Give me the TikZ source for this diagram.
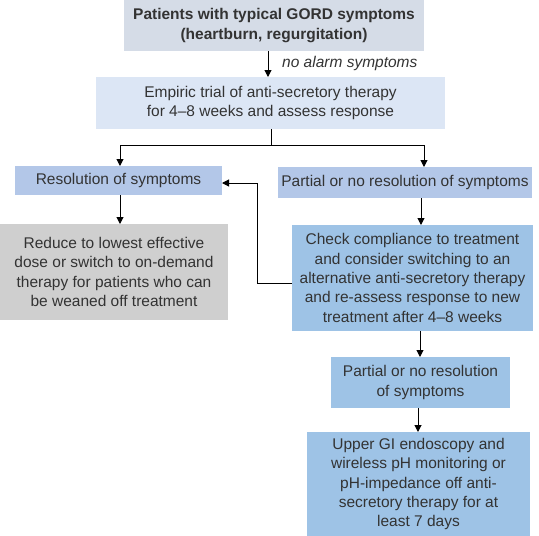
\documentclass[tikz,border=0pt]{standalone}
\usepackage{fontspec}
\setmainfont{Liberation Sans}
\usetikzlibrary{arrows.meta}
\definecolor{txt}{HTML}{333333}
\definecolor{cTop}{HTML}{D5DCE7}
\definecolor{cEmp}{HTML}{DCE6F5}
\definecolor{cMid}{HTML}{B3C7E8}
\definecolor{cGrey}{HTML}{CFCFCF}
\definecolor{cBlue}{HTML}{9EC3E6}
\begin{document}
\begin{tikzpicture}[x=1pt,y=-1pt,
  box/.style={inner sep=0pt,outer sep=0pt,align=center,text=txt,
    font=\fontsize{15.5}{19.3}\selectfont},
  arr/.style={-{Triangle[length=7pt,width=7pt]},line width=1pt,black},
  ln/.style={line width=1pt,black}]
\useasboundingbox (0,0) rectangle (539,536);
\node[box,fill=cTop,minimum width=300pt,minimum height=51pt] (b1) at (274,25.5)
  {\bfseries Patients with typical GORD symptoms\\\bfseries (heartburn, regurgitation)};
\node[box,fill=cEmp,minimum width=349pt,minimum height=52pt] (b2) at (270.5,103)
  {Empiric trial of anti-secretory therapy\\for 4–8 weeks and assess response};
\node[box,fill=cMid,minimum width=207pt,minimum height=29pt] (b3) at (118.5,180.5)
  {Resolution of symptoms};
\node[box,fill=cMid,minimum width=254pt,minimum height=31pt] (b4) at (405,182.5)
  {Partial or no resolution of symptoms};
\node[box,fill=cGrey,minimum width=228pt,minimum height=96pt] (b5) at (114,272)
  {Reduce to lowest effective\\dose or switch to on-demand\\therapy for patients who can\\be weaned off treatment};
\node[box,fill=cBlue,minimum width=241pt,minimum height=106pt] (b6) at (412.5,278)
  {Check compliance to treatment\\and consider switching to an\\alternative anti-secretory therapy\\and re-assess response to new\\treatment after 4–8 weeks};
\node[box,fill=cBlue,minimum width=179pt,minimum height=51pt] (b7) at (420.5,382.5)
  {Partial or no resolution\\of symptoms};
\node[box,fill=cBlue,minimum width=223pt,minimum height=104pt] (b8) at (418.5,484)
  {Upper GI endoscopy and\\wireless pH monitoring or\\pH-impedance off anti-\\secretory therapy for at\\least 7 days};
\node[anchor=west,inner sep=0pt,text=txt,font=\fontsize{15.5}{19}\selectfont\itshape] (lab) at (282,63) {no alarm symptoms};
\coordinate (xa) at (268,0);
\coordinate (xt) at (271,0);
\coordinate (yb) at (0,145);
\coordinate (xl) at (120,0);
\coordinate (xr) at (424,0);
\coordinate (xr2) at (421,0);
\coordinate (xf) at (257,0);
\coordinate (yf) at (0,283);
\coordinate (yf2) at (0,183);
\coordinate (x7) at (420,0);
\coordinate (x8) at (418,0);
\draw[arr] (b1.south -| xa) -- (b2.north -| xa);
\draw[ln] (b2.south -| xt) -- (xt |- yb);
\draw[arr] (xl |- yb) -- (b3.north -| xl);
\draw[arr] (xr |- yb) -- (b4.north -| xr);
\draw[ln] (xl |- yb) -- (xr |- yb);
\draw[arr] (b3.south -| xl) -- (b5.north -| xl);
\draw[arr] (b4.south -| xr2) -- (b6.north -| xr2);
\draw[arr] (b6.west |- yf) -- (xf |- yf) -- (xf |- yf2) -- (b3.east |- yf2);
\draw[arr] (b6.south -| x7) -- (b7.north -| x7);
\draw[arr] (b7.south -| x8) -- (b8.north -| x8);
\end{tikzpicture}
\end{document}
